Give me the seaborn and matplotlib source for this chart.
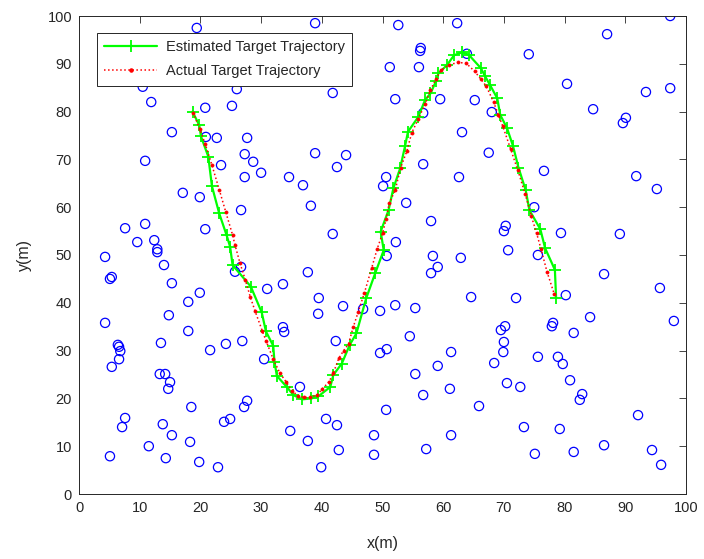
import matplotlib
matplotlib.use("Agg")
import matplotlib.pyplot as plt
import seaborn as sns
import pandas as pd
from matplotlib.lines import Line2D

# Sensor nodes
node_x = [4.3, 5.4, 5.1, 4.3, 5.4, 6.4, 6.6, 6.8, 6.6, 7.6, 7.1, 5.1, 7.6, 9.6, 10.9, 10.9, 11.9, 10.5,
          12.4, 12.9, 12.9, 14.0, 15.3, 14.8, 13.5, 13.3, 14.2, 15.0, 14.7, 13.8, 15.3, 11.5, 14.3, 15.3,
          17.1, 19.9, 19.4, 20.8, 20.9, 22.7, 20.8, 19.9, 18.0, 18.0, 18.5, 18.3, 19.8, 22.9, 21.6, 24.2,
          26.9, 23.9, 24.9, 27.7, 27.2, 26.0, 25.2, 27.7, 23.4, 27.3, 28.7, 27.3, 30.0, 26.7, 26.7, 25.7,
          31.0, 33.6, 30.5, 33.6, 33.8, 34.6, 36.9, 38.2, 37.7, 39.5, 39.4, 36.4, 34.8, 37.7, 39.9, 40.7,
          42.5, 42.8, 42.3, 43.5, 41.8, 38.9, 44.0, 42.5, 41.8, 38.9, 46.8, 49.6, 52.1, 55.4, 48.6, 48.6,
          50.6, 49.6, 50.7, 54.5, 55.4, 56.7, 57.2, 61.3, 61.1, 59.1, 61.3, 65.9, 68.4, 50.7, 52.2, 50.6,
          50.1, 53.9, 58.0, 58.3, 62.9, 59.1, 58.0, 64.6, 62.6, 56.7, 63.1, 56.7, 52.1, 59.5, 65.2, 51.2,
          56.0, 56.3, 56.2, 63.9, 52.6, 62.3, 67.5, 68.0, 74.1, 87.0, 97.4, 80.4, 93.4, 97.4, 84.7, 90.1,
          89.6, 76.6, 91.8, 95.2, 75.0, 70.3, 70.0, 79.4, 89.1, 70.7, 75.6, 86.5, 95.7, 72.0, 80.2, 84.2,
          98.0, 70.2, 69.5, 78.1, 77.9, 81.5, 70.0, 69.9, 75.6, 78.9, 79.7, 70.5, 72.7, 80.9, 82.9, 82.5,
          92.1, 73.3, 79.2, 75.1, 81.5, 86.5, 94.4, 95.9]
node_y = [49.6, 45.4, 45.0, 35.8, 26.6, 31.2, 30.8, 29.9, 28.2, 15.9, 14.0, 7.9, 55.6, 52.7, 56.5, 69.7, 82.0, 85.2,
          53.1, 51.2, 50.6, 47.9, 44.1, 37.4, 31.6, 25.1, 25.1, 23.4, 22.0, 14.6, 12.3, 10.0, 7.5, 75.7,
          63.0, 62.1, 97.5, 80.8, 74.7, 74.5, 55.4, 42.1, 40.2, 34.1, 18.2, 10.9, 6.7, 5.6, 30.1, 31.4,
          32.0, 15.1, 15.7, 19.5, 18.2, 84.7, 81.2, 74.5, 68.8, 71.1, 69.5, 66.3, 67.2, 59.4, 47.5, 46.5,
          42.9, 43.9, 28.2, 34.9, 33.9, 66.3, 64.6, 60.3, 46.4, 41.0, 37.7, 22.4, 13.2, 11.1, 5.6, 15.7,
          14.4, 9.2, 32.0, 39.3, 54.4, 71.3, 70.9, 68.4, 83.9, 98.5, 38.7, 38.3, 39.5, 38.9, 12.3, 8.2,
          17.6, 29.5, 30.3, 33.0, 25.1, 20.7, 9.4, 12.3, 22.0, 26.8, 29.7, 18.4, 27.4, 49.8, 52.7, 66.3,
          64.4, 60.9, 57.1, 49.8, 49.4, 47.5, 46.2, 41.2, 66.3, 69.0, 75.7, 79.7, 82.6, 82.6, 82.4, 89.3,
          89.3, 93.3, 92.7, 92.1, 98.1, 98.5, 71.4, 79.9, 92.0, 96.2, 100.0, 85.8, 84.1, 84.9, 80.5, 78.7,
          77.6, 67.6, 66.5, 63.8, 60.0, 56.1, 55.0, 54.6, 54.4, 51.0, 50.0, 46.0, 43.1, 41.0, 41.6, 37.0,
          36.2, 35.1, 34.3, 35.8, 35.1, 33.7, 31.8, 29.7, 28.7, 28.7, 27.2, 23.2, 22.4, 23.8, 20.9, 19.7,
          16.5, 14.0, 13.6, 8.4, 8.8, 10.2, 9.2, 6.1]

# Actual target trajectory
actual_x = [18.8, 19.9, 20.8, 21.9, 23.1, 24.2, 25.3, 25.7, 26.5, 27.4, 28.2, 29.0, 30.2, 30.8, 32.0, 33.1,
            34.1, 35.1, 36.1, 37.1, 38.0, 39.2, 40.1, 41.2, 41.9, 42.8, 43.6, 44.4, 45.2, 46.0, 47.0, 48.2,
            49.1, 50.0, 50.6, 51.1, 52.1, 53.0, 54.0, 54.8, 55.9, 57.0, 57.9, 58.8, 59.7, 61.0, 62.5, 63.8,
            65.2, 66.2, 67.1, 68.3, 69.1, 69.8, 71.1, 72.3, 73.5, 74.5, 75.4, 76.1, 77.1, 78.3]
actual_y = [79.8, 76.3, 73.2, 68.8, 63.7, 58.9, 54.2, 52.1, 48.4, 44.8, 41.3, 38.3, 34.1, 32.1, 28.2, 25.3,
            23.5, 21.6, 20.5, 20.2, 20.2, 20.7, 22.0, 23.5, 25.3, 28.4, 30.0, 31.4, 35.0, 38.1, 42.0, 47.2,
            51.2, 54.5, 57.5, 60.8, 63.6, 68.3, 71.7, 75.5, 78.5, 81.5, 84.5, 86.8, 88.7, 89.8, 90.3, 90.1,
            88.4, 86.8, 85.3, 82.0, 79.3, 77.0, 72.2, 67.7, 62.8, 58.2, 54.5, 51.3, 46.5, 41.8]

# Estimated target trajectory
est_x = [18.7, 19.8, 20.1, 21.3, 21.9, 23.1, 24.3, 24.9, 25.3, 28.3, 30.1, 30.8, 32.0, 32.2, 32.6, 34.3,
         35.3, 36.8, 38.3, 39.4, 41.4, 41.9, 43.3, 44.6, 45.7, 47.3, 48.8, 50.2, 49.7, 51.0, 51.8, 52.9,
         53.7, 54.2, 55.9, 57.0, 57.9, 58.8, 59.2, 60.6, 61.8, 63.1, 64.2, 66.2, 66.9, 67.7, 68.9, 69.4,
         70.5, 71.5, 72.4, 73.6, 74.2, 76.0, 76.8, 78.4, 78.6]
est_y = [80.0, 77.2, 74.8, 70.6, 64.4, 58.7, 54.2, 51.7, 47.9, 43.4, 38.0, 34.0, 31.0, 27.7, 24.7, 22.3,
         20.7, 19.8, 20.0, 20.4, 22.4, 24.9, 27.3, 31.2, 33.6, 40.9, 46.2, 51.0, 54.9, 59.4, 64.0, 68.1,
         72.7, 75.8, 78.9, 82.4, 83.8, 86.3, 88.0, 89.7, 91.8, 92.4, 91.9, 89.1, 87.4, 85.6, 82.8, 79.3,
         76.6, 72.8, 68.3, 63.5, 59.4, 55.4, 51.4, 46.9, 41.0]

sns.set_style("white")
plt.rcParams['font.family'] = ['Liberation Sans', 'DejaVu Sans']

GREEN = (0, 1, 0)
RED = (1, 0, 0)
BLUE = (0, 0, 1)

fig = plt.figure(figsize=(7.04, 5.59), dpi=100)
ax = fig.add_axes([79/704, 1-494/559, 607/704, 478/559])

nodes = pd.DataFrame({"x": node_x, "y": node_y})
act = pd.DataFrame({"x": actual_x, "y": actual_y})
est = pd.DataFrame({"x": est_x, "y": est_y})

sns.scatterplot(data=nodes, x="x", y="y", ax=ax, marker="o", s=44,
                facecolor="none", edgecolor=BLUE, linewidth=0.9, legend=False, zorder=2)
sns.lineplot(data=est, x="x", y="y", ax=ax, sort=False, estimator=None,
             color=GREEN, linewidth=1.6, marker="+", markersize=9,
             markeredgewidth=1.3, markeredgecolor=GREEN, zorder=3)
sns.lineplot(data=act, x="x", y="y", ax=ax, sort=False, estimator=None,
             color=RED, linewidth=1.1, linestyle=":", marker=".", markersize=4.5,
             markeredgewidth=0.5, markeredgecolor=RED, markerfacecolor=RED, zorder=4)

ax.set_xlim(0, 100)
ax.set_ylim(0, 100)
ax.set_xticks(range(0, 101, 10))
ax.set_yticks(range(0, 101, 10))
axc = (0.15, 0.15, 0.15)
ax.tick_params(direction="in", length=5, width=0.6, top=True, right=True,
               labelsize=10.5, colors=axc, labelcolor=axc, pad=5)
for sp in ax.spines.values():
    sp.set_visible(True)
    sp.set_color(axc)
    sp.set_linewidth(0.7)
ax.set_xlabel("x(m)", fontsize=11.5, color=axc, labelpad=15)
ax.set_ylabel("y(m)", fontsize=11.5, color=axc, labelpad=11)
ax.grid(False)

handles = [
    Line2D([], [], color=GREEN, linewidth=1.6, marker="+", markersize=9,
           markeredgewidth=1.3, markeredgecolor=GREEN),
    Line2D([], [], color=RED, linewidth=1.1, linestyle=":", marker=".", markersize=4.5,
           markeredgecolor=RED, markerfacecolor=RED),
]
leg = ax.legend(handles, ["Estimated Target Trajectory", "Actual Target Trajectory"],
                loc="upper left", bbox_to_anchor=((97-79)/607, (494-33)/478),
                borderaxespad=0, fontsize=10.5, frameon=True, fancybox=False,
                edgecolor=axc, framealpha=1, handlelength=3.6, handletextpad=0.6,
                borderpad=0.5, labelspacing=0.7)
leg.get_frame().set_linewidth(0.7)

fig.savefig("out.png", dpi=100)
